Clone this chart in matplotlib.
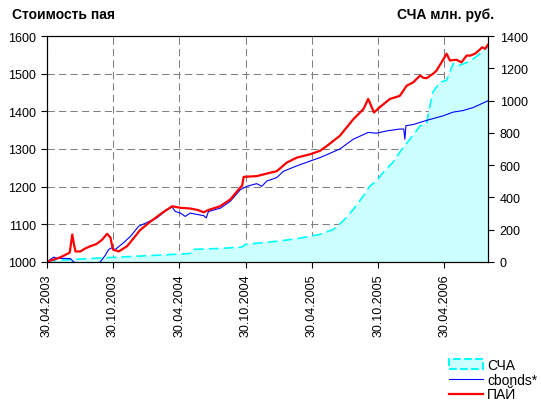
import numpy as np
import pandas as pd
import matplotlib
matplotlib.use('Agg')
import matplotlib.pyplot as plt
from matplotlib.patches import Patch
from matplotlib.lines import Line2D

plt.rcParams['font.family'] = ['Liberation Sans', 'DejaVu Sans']

# ПАЙ - unit price (left axis)
pai_dates = ['2003-04-30', '2003-05-15', '2003-06-01', '2003-06-17', '2003-07-03', '2003-07-10',
             '2003-07-15', '2003-07-19', '2003-08-01', '2003-08-15', '2003-08-29', '2003-09-15',
             '2003-09-30', '2003-10-14', '2003-10-23', '2003-10-30', '2003-11-15', '2003-12-08',
             '2003-12-25', '2004-01-13', '2004-02-10', '2004-03-13', '2004-04-10', '2004-05-02',
             '2004-05-30', '2004-06-20', '2004-07-06', '2004-07-19', '2004-08-20', '2004-09-17',
             '2004-10-14', '2004-10-20', '2004-10-24', '2004-11-29', '2005-01-05', '2005-01-23',
             '2005-02-20', '2005-03-19', '2005-04-25', '2005-05-22', '2005-06-10', '2005-07-16',
             '2005-08-22', '2005-09-19', '2005-10-02', '2005-10-18', '2005-11-03', '2005-12-01',
             '2005-12-28', '2006-01-16', '2006-02-03', '2006-02-22', '2006-03-03', '2006-03-12',
             '2006-03-30', '2006-04-08', '2006-04-22', '2006-05-06', '2006-05-15', '2006-06-02',
             '2006-06-16', '2006-06-30', '2006-07-10', '2006-07-23', '2006-08-01', '2006-08-12',
             '2006-08-20', '2006-08-28']
pai_values = [1000, 1005, 1010, 1017, 1025, 1073,
              1045, 1028, 1028, 1036, 1042, 1048,
              1059, 1075, 1065, 1033, 1028, 1042,
              1062, 1085, 1107, 1130, 1148, 1144,
              1142, 1138, 1132, 1138, 1148, 1166,
              1197, 1203, 1226, 1228, 1237, 1241,
              1264, 1277, 1286, 1295, 1308, 1335,
              1379, 1406, 1433, 1397, 1411, 1433,
              1441, 1468, 1477, 1495, 1489, 1488,
              1500, 1508, 1530, 1553, 1535, 1537,
              1530, 1548, 1548, 1553, 1560, 1570,
              1566, 1577]

# cbonds* index (left axis)
cb_dates = ['2003-04-30', '2003-05-20', '2003-05-29', '2003-07-05', '2003-07-14', '2003-08-01',
            '2003-09-01', '2003-09-25', '2003-10-09', '2003-10-18', '2003-10-27', '2003-11-05',
            '2003-11-28', '2003-12-17', '2004-01-09', '2004-02-01', '2004-02-28', '2004-03-27',
            '2004-04-10', '2004-04-19', '2004-05-03', '2004-05-16', '2004-05-30', '2004-06-08',
            '2004-07-06', '2004-07-13', '2004-07-19', '2004-08-21', '2004-09-17', '2004-10-15',
            '2004-11-02', '2004-11-29', '2004-12-13', '2004-12-27', '2005-01-23', '2005-02-11',
            '2005-03-19', '2005-04-25', '2005-05-22', '2005-07-16', '2005-08-22', '2005-10-02',
            '2005-10-25', '2005-11-22', '2005-12-28', '2006-01-08', '2006-01-11', '2006-01-14',
            '2006-02-03', '2006-03-12', '2006-04-26', '2006-05-24', '2006-06-20', '2006-07-18',
            '2006-08-28']
cb_values = [1000, 1013, 1010, 1009, 1000, 996,
             995, 1000, 1018, 1033, 1038, 1033,
             1051, 1068, 1095, 1105, 1117, 1139,
             1146, 1134, 1130, 1121, 1130, 1128,
             1123, 1117, 1134, 1143, 1161, 1192,
             1201, 1208, 1201, 1215, 1224, 1241,
             1255, 1268, 1277, 1300, 1326, 1344,
             1342, 1348, 1353, 1353, 1326, 1362,
             1365, 1376, 1388, 1398, 1402, 1410,
             1428]

# СЧА - net assets, mln rub (right axis)
sca_dates = ['2003-04-30', '2003-07-14', '2003-10-14', '2004-01-13', '2004-04-14', '2004-05-30',
             '2004-06-04', '2004-08-21', '2004-10-20', '2004-10-29', '2005-01-05', '2005-02-20',
             '2005-04-06', '2005-05-22', '2005-06-28', '2005-07-25', '2005-08-22', '2005-09-19',
             '2005-10-07', '2005-10-25', '2005-11-12', '2005-12-10', '2006-01-03', '2006-01-25',
             '2006-02-22', '2006-03-12', '2006-03-21', '2006-03-30', '2006-04-17', '2006-05-06',
             '2006-05-19', '2006-05-24', '2006-06-07', '2006-06-30', '2006-07-23', '2006-08-28']
sca_values = [5, 16, 27, 37, 47, 53,
              78, 84, 93, 109, 124, 136,
              151, 171, 202, 254, 326, 410,
              471, 502, 554, 620, 700, 761,
              843, 860, 967, 1055, 1113, 1125,
              1200, 1230, 1216, 1235, 1265, 1335]

tick_dates = ['2003-04-30', '2003-10-30', '2004-04-30', '2004-10-30',
              '2005-04-30', '2005-10-30', '2006-04-30']
tick_labels = ['30.04.2003', '30.10.2003', '30.04.2004', '30.10.2004',
               '30.04.2005', '30.10.2005', '30.04.2006']

pai_d = pd.to_datetime(pai_dates)
cb_d = pd.to_datetime(cb_dates)
sca_d = pd.to_datetime(sca_dates)

fig = plt.figure(figsize=(5.41, 4.02), dpi=100)
ax = fig.add_axes([46.5 / 541, 1 - 263 / 402, (488 - 46.5) / 541, (263 - 37) / 402])
ax2 = ax.twinx()

ax.set_axisbelow(True)
ax.grid(True, color='#808080', linestyle=(0, (7, 4)), linewidth=0.75, zorder=0)

# area on the right scale, drawn inside ax so it sits above the grid
ax.fill_between(sca_d, sca_values, 0, transform=ax2.transData,
                facecolor='#ccffff', linewidth=0, zorder=1)
ax.plot(sca_d, sca_values, transform=ax2.transData, color='#00ffff',
        linestyle=(0, (6, 3)), linewidth=1.2, zorder=2)

ax.plot(cb_d, cb_values, color='#0000ff', linewidth=0.8, zorder=3)
ax.plot(pai_d, pai_values, color='#ff0000', linewidth=1.6, zorder=4)

ax.set_xlim(pd.Timestamp('2003-04-30'), pd.Timestamp('2006-08-28'))
ax.set_ylim(1000, 1600)
ax2.set_ylim(0, 1400)

ax.set_xticks(pd.to_datetime(tick_dates))
ax.set_xticklabels(tick_labels, rotation=90)
ax.set_yticks(np.arange(1000, 1601, 100))
ax2.set_yticks(np.arange(0, 1401, 200))

for a in (ax, ax2):
    a.tick_params(direction='out', length=4.5, width=0.8, labelsize=9, colors='black', pad=3)
    for s in a.spines.values():
        s.set_linewidth(0.8)
        s.set_color('black')
ax2.tick_params(pad=4)
ax.tick_params(axis='x', pad=4)

fig.text(12 / 541, 1 - 15 / 402, 'Стоимость пая', fontsize=10, fontweight='bold', va='center')
fig.text(494 / 541, 1 - 15 / 402, 'СЧА млн. руб.', fontsize=10, fontweight='bold',
         va='center', ha='right')

handles = [Patch(facecolor='#ccffff', edgecolor='#00ffff', linestyle='--', linewidth=1.5),
           Line2D([], [], color='#0000ff', linewidth=0.8),
           Line2D([], [], color='#ff0000', linewidth=1.6)]
fig.legend(handles, ['СЧА', 'cbonds*', 'ПАЙ'], loc='upper left',
           bbox_to_anchor=(449 / 541, 1 - 359 / 402), frameon=False, fontsize=10,
           borderpad=0, borderaxespad=0, labelspacing=0.05, handlelength=2.45,
           handletextpad=0.3)

fig.savefig('out.png', dpi=100)
